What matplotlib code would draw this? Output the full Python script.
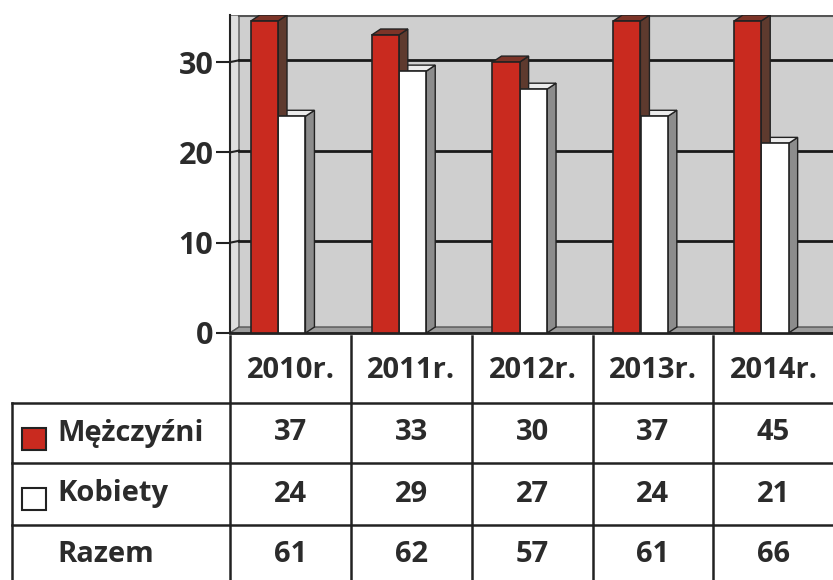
import matplotlib
matplotlib.use("Agg")
import matplotlib.pyplot as plt
from matplotlib.patches import Polygon, Rectangle

# data
years = ["2010r.", "2011r.", "2012r.", "2013r.", "2014r."]
men = [37, 33, 30, 37, 45]
women = [24, 29, 27, 24, 21]
total = [61, 62, 57, 61, 66]
row_labels = ["Mężczyźni", "Kobiety", "Razem"]
yticks = [0, 10, 20, 30]

plt.rcParams["font.family"] = ["Open Sans", "DejaVu Sans"]
plt.rcParams["font.weight"] = "bold"

W, H = 833, 580
fig = plt.figure(figsize=(W / 100, H / 100), dpi=100)

# pixel-space layer for the data table
tab = fig.add_axes([0, 0, 1, 1])
tab.set_xlim(0, W)
tab.set_ylim(H, 0)
tab.axis("off")

# plot area (3D-looking column chart)
x0_px, x1_px, y0_px, y1_px = 230, 834, 333, 15
ax = fig.add_axes([x0_px / W, (H - y0_px) / H, (x1_px - x0_px) / W, (y0_px - y1_px) / H])
ymax = (y0_px - y1_px) / 9.03
ax.set_xlim(-0.5, len(years) - 0.5)
ax.set_ylim(0, ymax)
ax.set_facecolor("#cfcfcf")

dx, dy = 9 / 120.8, 6 / 9.03  # depth of the fake 3D

# side wall and floor
ax.add_patch(Polygon([(-0.5, 0), (-0.5 + dx, dy), (-0.5 + dx, ymax), (-0.5, ymax)],
                     closed=True, facecolor="#dedede", edgecolor="#555555", lw=1, zorder=1))
ax.add_patch(Polygon([(-0.5, 0), (-0.5 + dx, dy), (len(years), dy), (len(years), 0)],
                     closed=True, facecolor="#9c9c9c", edgecolor="#555555", lw=1, zorder=1))
ax.axhline(ymax - 0.15, xmin=dx / 5, color="#555555", lw=1.5, zorder=1)

for v in yticks[1:]:
    ax.plot([-0.5, -0.5 + dx], [v, v + dy * 0.3], color="#222222", lw=1.5, zorder=1)
    ax.axhline(v + dy * 0.3, xmin=dx / 5, color="#1a1a1a", lw=2, zorder=1)


def bar3d(xc, h, w, front, side, top):
    h = min(h, ymax - dy)  # Excel cuts columns at the axis maximum
    xl, xr = xc - w / 2, xc + w / 2
    ax.add_patch(Polygon([(xr, 0), (xr + dx, dy), (xr + dx, h + dy), (xr, h)],
                         closed=True, facecolor=side, edgecolor="#222222", lw=1, zorder=3))
    ax.add_patch(Polygon([(xl, h), (xr, h), (xr + dx, h + dy), (xl + dx, h + dy)],
                         closed=True, facecolor=top, edgecolor="#222222", lw=1, zorder=3))
    ax.add_patch(Rectangle((xl, 0), w, h, facecolor=front, edgecolor="#222222", lw=1.2, zorder=4))


bw = 0.225
for i in range(len(years)):
    bar3d(i + 0.012, women[i], bw, "#ffffff", "#8c8c8c", "#ececec")
    bar3d(i - 0.215, men[i], bw, "#c92a1f", "#5e3a2e", "#7c3428")

ax.set_xticks([])
ax.set_yticks(yticks)
ax.set_yticklabels([str(t) for t in yticks], fontsize=22, fontweight="bold", color="#2b2b2b")
ax.tick_params(axis="y", length=10, width=1.5, color="#222222", pad=2)
for s in ["top", "right"]:
    ax.spines[s].set_visible(False)
ax.spines["left"].set_linewidth(1.5)
ax.spines["bottom"].set_linewidth(2)
ax.spines["left"].set_color("#222222")
ax.spines["bottom"].set_color("#222222")

# data table
col_edges = [230, 351, 472, 593, 713, 834]
row_edges = [403, 463, 525, 590]
lc = "#222222"
for xe in col_edges:
    tab.plot([xe, xe], [336, H + 5], color=lc, lw=1.8)
tab.plot([12, 12], [row_edges[0], H + 5], color=lc, lw=1.8)
for ye in row_edges[:-1]:
    tab.plot([12, W + 5], [ye, ye], color=lc, lw=1.8)

txt = dict(fontsize=21, fontweight="bold", color="#2b2b2b", va="center")
for j, y in enumerate(years):
    tab.text((col_edges[j] + col_edges[j + 1]) / 2, 370, y, ha="center", **txt)

rows = [men, women, total]
row_mid = [433, 494, 555]
for r, vals in enumerate(rows):
    tab.text(57, row_mid[r], row_labels[r], ha="left", **txt)
    for j, v in enumerate(vals):
        tab.text((col_edges[j] + col_edges[j + 1]) / 2, row_mid[r], str(v), ha="center", **txt)

# legend keys inside the table
tab.add_patch(Rectangle((22, 428), 24, 22, facecolor="#c92a1f", edgecolor="#222222", lw=1.5))
tab.add_patch(Rectangle((22, 488), 24, 22, facecolor="#ffffff", edgecolor="#222222", lw=1.5))

fig.savefig("out.png", dpi=100)
